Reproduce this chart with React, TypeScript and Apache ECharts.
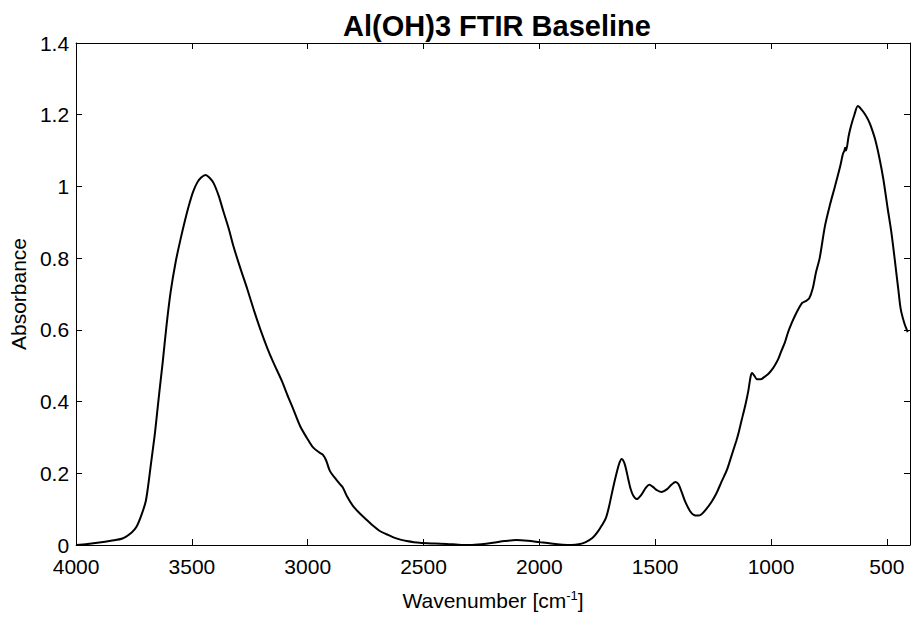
import React, { useEffect, useRef } from "react";
import * as echarts from "echarts";

const wavenumbers: number[] = [
  4000, 3950, 3900, 3850, 3800, 3760, 3740, 3720, 3700, 3690, 3680, 3670, 3660, 3650, 3640, 3626, 3610,
  3592, 3570, 3549, 3530, 3514, 3495, 3476, 3460, 3441, 3425, 3407, 3385, 3364, 3340, 3321, 3290,
  3261, 3230, 3205, 3175, 3149, 3110, 3089, 3060, 3033, 3005, 2977, 2950, 2935, 2920, 2904, 2880,
  2861, 2848, 2830, 2805, 2775, 2745, 2715, 2689, 2660, 2633, 2600, 2573, 2517, 2450, 2400, 2350,
  2300, 2250, 2200, 2150, 2100, 2050, 2000, 1950, 1900, 1860, 1830, 1800, 1770, 1750, 1730, 1713,
  1700, 1690, 1678, 1665, 1655, 1645, 1635, 1627, 1615, 1606, 1595, 1580, 1560, 1540, 1525, 1510,
  1490, 1472, 1450, 1430, 1412, 1400, 1386, 1370, 1350, 1334, 1315, 1300, 1280, 1257, 1235, 1214,
  1190, 1171, 1150, 1141, 1128, 1111, 1098, 1088, 1082, 1072, 1060, 1045, 1030, 1012, 995, 982,
  968, 956, 940, 926, 910, 896, 880, 866, 850, 835, 820, 806, 790, 767, 745, 724,
  700, 690, 683, 680, 676, 665, 655, 640, 625, 610, 595, 580, 569, 550, 531, 515,
  496, 480, 466, 450, 440, 425, 410,
];

const absorbance: number[] = [
  0.0, 0.003, 0.007, 0.012, 0.018, 0.035, 0.05, 0.08, 0.12, 0.16, 0.21, 0.26, 0.31, 0.37, 0.43, 0.51, 0.61,
  0.705, 0.79, 0.853, 0.905, 0.945, 0.985, 1.012, 1.025, 1.032, 1.025, 1.01, 0.975, 0.93, 0.88, 0.834, 0.77,
  0.714, 0.65, 0.602, 0.55, 0.51, 0.455, 0.42, 0.375, 0.332, 0.3, 0.272, 0.258, 0.252, 0.235, 0.206, 0.185,
  0.17, 0.16, 0.135, 0.109, 0.088, 0.07, 0.052, 0.039, 0.03, 0.022, 0.015, 0.011, 0.006, 0.004, 0.003, 0.001,
  0.0, 0.002, 0.006, 0.011, 0.014, 0.012, 0.008, 0.004, 0.001, 0.0, 0.002, 0.008, 0.02, 0.035, 0.055, 0.075,
  0.105, 0.135, 0.17, 0.205, 0.228, 0.24, 0.232, 0.215, 0.18, 0.156, 0.138, 0.128, 0.14, 0.16, 0.168, 0.162,
  0.152, 0.148, 0.155, 0.168, 0.176, 0.17, 0.148, 0.12, 0.095, 0.084, 0.082, 0.086, 0.1, 0.12, 0.145, 0.176,
  0.21, 0.248, 0.29, 0.31, 0.345, 0.39, 0.43, 0.47, 0.48, 0.472, 0.462, 0.462, 0.468, 0.477, 0.49, 0.503,
  0.52, 0.54, 0.565, 0.594, 0.62, 0.64, 0.66, 0.675, 0.68, 0.688, 0.715, 0.76, 0.8, 0.89, 0.95, 1.0,
  1.06, 1.09, 1.1, 1.108, 1.1, 1.14, 1.168, 1.2, 1.224, 1.215, 1.202, 1.185, 1.168, 1.13, 1.076, 1.02,
  0.937, 0.87, 0.797, 0.71, 0.658, 0.62, 0.594,
];

const xTickValues: number[] = [500, 1000, 1500, 2000, 2500, 3000, 3500, 4000];

const titleText = "Al(OH)3 FTIR Baseline";
const xTitle = "Wavenumber [cm{sup|-1}]";
const yTitle = "Absorbance";

const FONT = "Liberation Sans, Arial, sans-serif";

export default function App() {
  const ref = useRef<HTMLDivElement>(null);

  useEffect(() => {
    if (!ref.current) return;
    const chart = echarts.init(ref.current, null, { renderer: "svg" });
    const data = wavenumbers.map((w, i) => [w, absorbance[i]]);
    const axisLineStyle = { color: "#000", width: 1 };
    const xCommon = {
      type: "value" as const,
      min: 400,
      max: 4000,
      inverse: true,
      splitLine: { show: false },
      axisLine: { show: true, onZero: false, lineStyle: axisLineStyle },
    };
    const yCommon = {
      type: "value" as const,
      min: 0,
      max: 1.4,
      interval: 0.2,
      splitLine: { show: false },
      axisLine: { show: true, onZero: false, lineStyle: axisLineStyle },
    };
    chart.setOption({
      animation: false,
      backgroundColor: "#fff",
      title: {
        text: titleText,
        left: 492,
        top: 6,
        textAlign: "center",
        textStyle: { fontFamily: FONT, fontWeight: "bold", fontSize: 29, color: "#000" },
      },
      grid: { left: 75, right: 1, top: 43, bottom: 74, containLabel: false },
      xAxis: [
        {
          ...xCommon,
          position: "bottom",
          name: xTitle,
          nameLocation: "middle",
          nameGap: 44,
          nameTextStyle: {
            fontFamily: FONT,
            fontSize: 21,
            color: "#000",
            rich: {
              sup: { fontFamily: FONT, fontSize: 13, color: "#000", verticalAlign: "top", padding: [0, 0, 10, 0] },
            },
          },
          axisTick: { show: true, inside: true, length: 6, customValues: xTickValues, lineStyle: axisLineStyle },
          axisLabel: {
            show: true,
            customValues: xTickValues,
            fontFamily: FONT,
            fontSize: 21,
            color: "#000",
            margin: 11,
            formatter: (v: number) => String(v),
          },
        },
        {
          ...xCommon,
          position: "top",
          axisTick: { show: true, inside: true, length: 6, customValues: xTickValues, lineStyle: axisLineStyle },
          axisLabel: { show: false },
        },
      ],
      yAxis: [
        {
          ...yCommon,
          position: "left",
          name: yTitle,
          nameLocation: "middle",
          nameGap: 42,
          nameTextStyle: { fontFamily: FONT, fontSize: 21, color: "#000" },
          axisTick: { show: true, inside: true, length: 6, lineStyle: axisLineStyle },
          axisLabel: {
            show: true,
            fontFamily: FONT,
            fontSize: 21,
            color: "#000",
            margin: 7,
            formatter: (v: number) => String(Math.round(v * 10) / 10),
          },
        },
        {
          ...yCommon,
          position: "right",
          axisTick: { show: true, inside: true, length: 6, lineStyle: axisLineStyle },
          axisLabel: { show: false },
        },
      ],
      series: [
        {
          type: "line",
          data,
          xAxisIndex: 0,
          yAxisIndex: 0,
          showSymbol: false,
          smooth: 0.3,
          lineStyle: { color: "#000", width: 2 },
          clip: true,
        },
      ],
    });
    return () => chart.dispose();
  }, []);

  return (
    <div
      ref={ref}
      style={{ position: "fixed", left: 0, top: 0, width: 911, height: 619, background: "#fff" }}
    />
  );
}
